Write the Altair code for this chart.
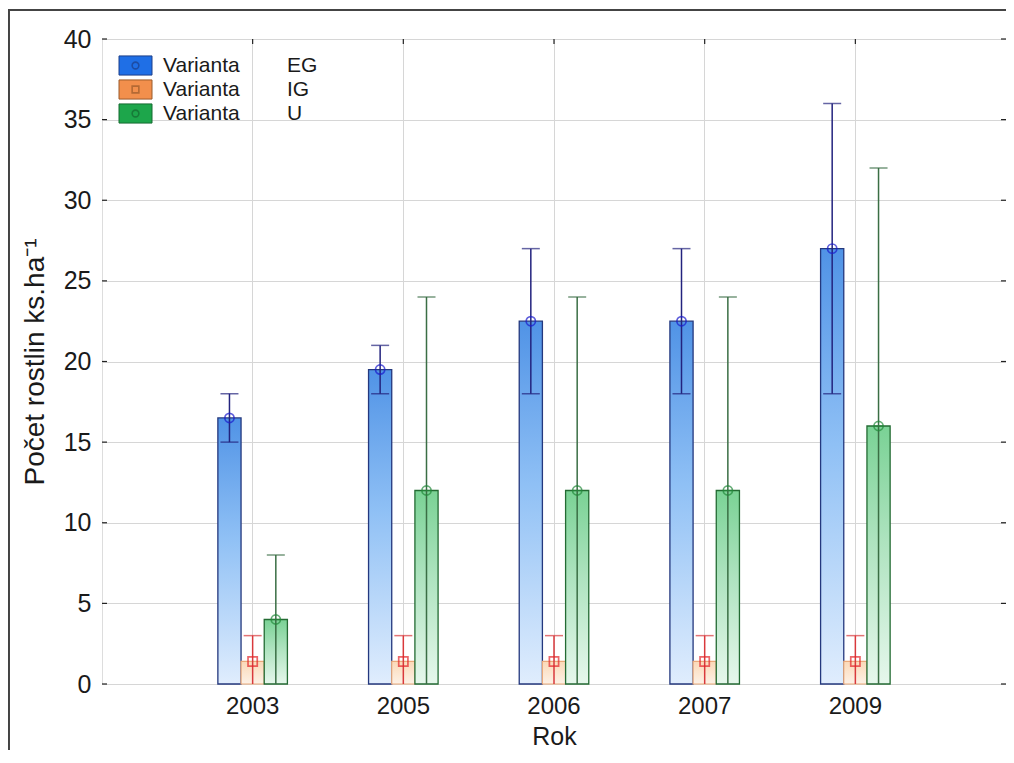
import altair as alt
import pandas as pd

# ---------------- data ----------------
years = ["2003", "2005", "2006", "2007", "2009"]
variants = ["EG", "IG", "U"]
eg_mean = [16.5, 19.5, 22.5, 22.5, 27.0]
eg_low = [15.0, 18.0, 18.0, 18.0, 18.0]
eg_high = [18.0, 21.0, 27.0, 27.0, 36.0]
ig_mean = [1.4, 1.4, 1.4, 1.4, 1.4]
ig_low = [0.0, 0.0, 0.0, 0.0, 0.0]
ig_high = [3.0, 3.0, 3.0, 3.0, 3.0]
u_mean = [4.0, 12.0, 12.0, 12.0, 16.0]
u_low = [0.0, 0.0, 0.0, 0.0, 0.0]
u_high = [8.0, 24.0, 24.0, 24.0, 32.0]
y_ticks = [0, 5, 10, 15, 20, 25, 30, 35, 40]
legend_word = "Varianta"
y_title = "Počet rostlin ks.ha⁻¹"
x_title = "Rok"

rows = []
for v, means, lows, highs in zip(variants, [eg_mean, ig_mean, u_mean],
                                 [eg_low, ig_low, u_low], [eg_high, ig_high, u_high]):
    for yr, m, lo, hi in zip(years, means, lows, highs):
        rows.append(dict(year=yr, variant=v, mean=m, low=lo, high=hi))
df = pd.DataFrame(rows)
ticks_df = pd.DataFrame({"tick": y_ticks})
years_df = pd.DataFrame({"year": years})
legend_df = pd.DataFrame({"variant": variants, "label": [legend_word] * 3})

# ---------------- style ----------------
W, H = 904, 645
PAD_B = 66
FONT = "Liberation Sans"

rule_colors = ["#23237e", "#d9393c", "#3a6e44"]
marker_colors = ["#1a1acc", "#e3262a", "#238a3b"]

grad_blue = alt.Gradient(gradient="linear", x1=1, x2=1, y1=1, y2=0,
                         stops=[alt.GradientStop(color="#e0edfd", offset=0),
                                alt.GradientStop(color="#8fc0f5", offset=0.55),
                                alt.GradientStop(color="#5093e6", offset=1)])
grad_orange = alt.Gradient(gradient="linear", x1=1, x2=1, y1=1, y2=0,
                           stops=[alt.GradientStop(color="#fdf1e6", offset=0),
                                  alt.GradientStop(color="#fbd9b8", offset=1)])
grad_green = alt.Gradient(gradient="linear", x1=1, x2=1, y1=1, y2=0,
                          stops=[alt.GradientStop(color="#e6f7ec", offset=0),
                                 alt.GradientStop(color="#aee3bf", offset=0.55),
                                 alt.GradientStop(color="#7ad295", offset=1)])

x_axis = alt.Axis(title=x_title, labelAngle=0, labelFontSize=24, labelPadding=10,
                  labelColor="#1a1a1a", labelFont=FONT,
                  ticks=False, domain=False, grid=True, gridColor="#d6d6d6", gridWidth=1,
                  titleFont=FONT, titleFontSize=25, titleFontWeight="normal", titleColor="#1a1a1a",
                  titleX=W / 2, titleY=40, titleBaseline="top", titleAlign="center")
y_axis = alt.Axis(values=y_ticks, title=y_title, labelFontSize=25, labelPadding=11,
                  labelColor="#1a1a1a", labelFont=FONT,
                  ticks=False, domain=False, grid=True, gridColor="#d6d6d6", gridWidth=1,
                  titleFont=FONT, titleFontSize=28, titleFontWeight="normal", titleColor="#1a1a1a",
                  titleX=-67, titleY=H / 2, titleAngle=270, titleAlign="center",
                  titleBaseline="middle")

x_scale = alt.Scale(domain=years, paddingInner=0.5385, paddingOuter=0.769)
y_scale = alt.Scale(domain=[0, 40], nice=False, zero=True)
off_scale = alt.Scale(domain=variants, paddingInner=0, paddingOuter=0)

X = alt.X("year:N", scale=x_scale, axis=x_axis)
XO = alt.XOffset("variant:N", scale=off_scale)


def Y(field):
    return alt.Y(f"{field}:Q", scale=y_scale, axis=y_axis)


base = alt.Chart(df)

bar_eg = base.transform_filter(alt.datum.variant == "EG").mark_bar(
    fill=grad_blue, stroke="#24387e", strokeWidth=1.3).encode(x=X, xOffset=XO, y=Y("mean"))
bar_ig = base.transform_filter(alt.datum.variant == "IG").mark_bar(
    fill=grad_orange, stroke="#eaa97a", strokeWidth=1.2).encode(x=X, xOffset=XO, y=Y("mean"))
bar_u = base.transform_filter(alt.datum.variant == "U").mark_bar(
    fill=grad_green, stroke="#236b33", strokeWidth=1.3).encode(x=X, xOffset=XO, y=Y("mean"))

col = alt.Color("variant:N", scale=alt.Scale(domain=variants, range=rule_colors), legend=None)

whisk = base.mark_rule(strokeWidth=1.5).encode(x=X, xOffset=XO, y=Y("low"), y2="high:Q", color=col)
cap_hi = base.mark_tick(orient="horizontal", size=18, thickness=1.5).encode(
    x=X, xOffset=XO, y=Y("high"), color=col)
cap_lo = base.transform_filter(alt.datum.low > 0).mark_tick(
    orient="horizontal", size=18, thickness=1.5).encode(x=X, xOffset=XO, y=Y("low"), color=col)

markers = base.mark_point(filled=False, size=85, strokeWidth=1.7).encode(
    x=X, xOffset=XO, y=Y("mean"),
    stroke=alt.Stroke("variant:N", scale=alt.Scale(domain=variants, range=marker_colors), legend=None),
    shape=alt.Shape("variant:N", scale=alt.Scale(domain=variants, range=["circle", "square", "circle"]),
                    legend=None))
cross_u = base.transform_filter(alt.datum.variant == "U").mark_point(
    shape="M-1,0H1", filled=False, size=85, strokeWidth=1.2, stroke="#238a3b").encode(
    x=X, xOffset=XO, y=Y("mean"))

# inward ticks on the frame
tick_l = alt.Chart(ticks_df).mark_rule(color="#222", strokeWidth=1.2).encode(
    y=alt.Y("tick:Q", scale=y_scale, axis=y_axis), x=alt.value(0), x2=alt.value(5))
tick_r = alt.Chart(ticks_df).mark_rule(color="#222", strokeWidth=1.2).encode(
    y=alt.Y("tick:Q", scale=y_scale, axis=y_axis), x=alt.value(W - 5), x2=alt.value(W))
tick_t = alt.Chart(years_df).mark_rule(color="#222", strokeWidth=1.2).encode(
    x=alt.X("year:N", scale=x_scale, axis=x_axis), y=alt.value(0), y2=alt.value(5))

# page frame lines
frame_top = alt.Chart(years_df).mark_rule(color="#444", strokeWidth=1.5).encode(
    x=alt.value(-100), x2=alt.value(W + 2), y=alt.value(-29))
frame_left = alt.Chart(years_df).mark_rule(color="#444", strokeWidth=1.5).encode(
    x=alt.value(-93.2), y=alt.value(-29), y2=alt.value(H + PAD_B))

main = alt.layer(bar_eg, bar_ig, bar_u, whisk, cap_hi, cap_lo, markers, cross_u,
                 tick_l, tick_r, tick_t, frame_top, frame_left)

# ---------------- legend (top-left, inside plot) ----------------
LY = alt.Y("variant:N", scale=alt.Scale(type="point", domain=variants, range=[26.5, 74.5], padding=0),
           axis=None)
lg = alt.Chart(legend_df)
sw = lg.mark_point(shape="M-1,-0.58H1V0.58H-1Z", filled=True, size=1089, strokeWidth=1, opacity=1).encode(
    x=alt.value(33.5), y=LY,
    fill=alt.Fill("variant:N", scale=alt.Scale(domain=variants, range=["#1f6fe6", "#f28f4c", "#1da64b"]),
                  legend=None),
    stroke=alt.Stroke("variant:N", scale=alt.Scale(domain=variants, range=["#1d3f8a", "#9a5a2a", "#146a30"]),
                      legend=None))
sw_mark = lg.mark_point(filled=False, size=45, strokeWidth=1.6).encode(
    x=alt.value(33.5), y=LY,
    stroke=alt.Stroke("variant:N", scale=alt.Scale(domain=variants, range=["#1515b0", "#d41f1f", "#1c9a40"]),
                      legend=None),
    shape=alt.Shape("variant:N", scale=alt.Scale(domain=variants, range=["circle", "square", "circle"]),
                    legend=None))
lt1 = lg.mark_text(align="left", baseline="middle", fontSize=21, font=FONT, color="#1a1a1a").encode(
    x=alt.value(61), y=LY, text="label:N")
lt2 = lg.mark_text(align="left", baseline="middle", fontSize=21, font=FONT, color="#1a1a1a").encode(
    x=alt.value(185), y=LY, text="variant:N")
legend = alt.layer(sw, sw_mark, lt1, lt2)

chart = alt.layer(main, legend).resolve_scale(
    y="independent", fill="independent", stroke="independent", shape="independent"
).properties(
    width=W, height=H,
    padding={"left": 94, "top": 31, "right": 0, "bottom": PAD_B},
    autosize=alt.AutoSizeParams(type="none"),
    background="white",
).configure_view(stroke="#1e1e1e", strokeWidth=1.6).configure(font=FONT)

chart.save("out.html", embed_options={"renderer": "svg", "actions": False})
